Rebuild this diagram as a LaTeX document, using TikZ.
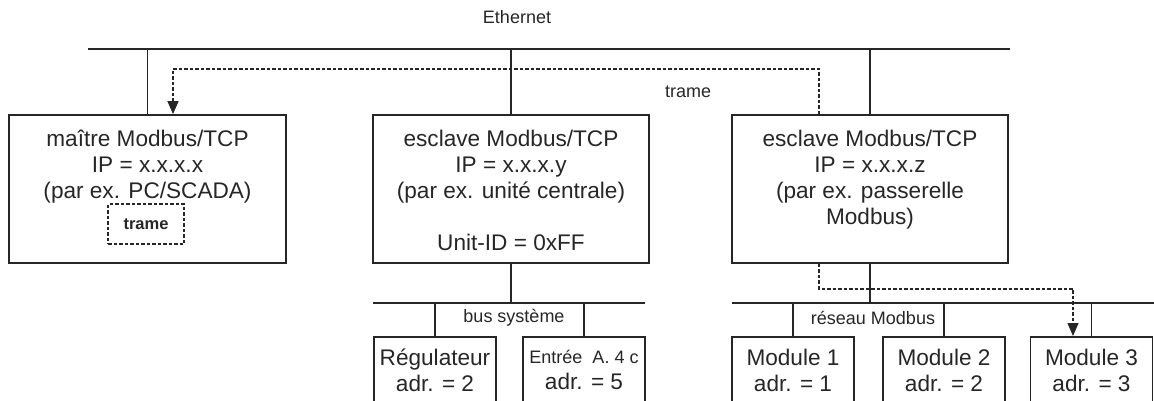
\documentclass[tikz,border=0pt]{standalone}
\usepackage{fontspec}
\setmainfont{Liberation Sans}
\usetikzlibrary{positioning,arrows.meta}

\definecolor{ink}{HTML}{262626}
\newcommand{\bigtxt}{\fontsize{22.6}{26}\selectfont}
\newcommand{\smalltxt}{\fontsize{18}{21}\selectfont}

\tikzset{
  bus/.style={draw=ink, line width=1.8pt},
  unitbox/.style={draw=ink, line width=1.8pt, minimum width=276pt, minimum height=148pt, inner sep=0pt},
  modbox/.style={draw=ink, line width=1.8pt, minimum width=122pt, minimum height=67pt, inner sep=0pt, anchor=north, align=center, text=ink, font=\bigtxt},
  bigtext/.style={align=center, inner sep=0pt, anchor=north, text=ink, font=\bigtxt},
  smalltext/.style={inner sep=0pt, text=ink, font=\smalltxt},
  framebox/.style={draw=ink, line width=1.3pt, dash pattern=on 3.5pt off 2pt, minimum width=76pt, minimum height=40pt, text=ink, font=\bfseries\fontsize{16.5}{20}\selectfont},
  trameline/.style={draw=ink, line width=1.3pt, dash pattern=on 3.5pt off 2pt, -{Triangle[length=13pt,width=11pt]}}
}

\begin{document}
\begin{tikzpicture}[x=1pt, y=-1pt]
	\useasboundingbox (0,0) rectangle (1154,400);
	\clip (0,0) rectangle (1154,400);

	% Ethernet
	\coordinate (ethL) at (88,49);
	\coordinate (ethR) at (1010,49);
	\node[smalltext] (ethlbl) at (517,17) {Ethernet};
	\draw[bus] (ethL) -- (ethR);

	% stations Modbus/TCP
	\node[unitbox, minimum width=277pt] (master) at (147.5,189) {};
	\node[unitbox] (cpu) at (511,189) {};
	\node[unitbox] (gateway) at (870,189) {};
	\node[bigtext] (mastertxt) at ([yshift=-15.5pt]master.north) {maître Modbus/TCP\\IP = x.x.x.x\\(par ex. PC/SCADA)};
	\node[bigtext] (cputxt) at ([yshift=-15.5pt]cpu.north) {esclave Modbus/TCP\\IP = x.x.x.y\\(par ex. unité centrale)\\[26pt]Unit-ID = 0xFF};
	\node[bigtext] (gatewaytxt) at ([yshift=-15.5pt]gateway.north) {esclave Modbus/TCP\\IP = x.x.x.z\\(par ex. passerelle\\Modbus)};
	\node[framebox] (mastertrame) at (146,224) {trame};
	\draw[bus] (master.north) -- (master.north |- ethL);
	\draw[bus] (cpu.north) -- (cpu.north |- ethL);
	\draw[bus] (gateway.north) -- (gateway.north |- ethL);

	% bus systeme
	\coordinate (sysL) at (373,303);
	\coordinate (sysR) at (645,303);
	\node[modbox] (reg) at (435,336) {Régulateur\\adr. = 2};
	\node[modbox] (ain) at (584,336) {{\smalltxt Entrée\ \ A. 4 c}\\adr. = 5};
	\node[smalltext] (syslbl) at (514,318) {bus système};
	\draw[bus] (sysL) -- (sysR);
	\draw[bus] (cpu.south) -- (cpu.south |- sysL);
	\draw[bus] (reg.north) -- (reg.north |- sysL);
	\draw[bus] (ain.north) -- (ain.north |- sysL);

	% reseau Modbus
	\coordinate (mbL) at (732,303);
	\coordinate (mbR) at (1154,303);
	\node[modbox] (mod1) at (793,336) {Module 1\\adr. = 1};
	\node[modbox] (mod2) at (944,336) {Module 2\\adr. = 2};
	\node[modbox] (mod3) at (1091.5,336) {Module 3\\adr. = 3};
	\node[smalltext] (mblbl) at (873,318) {réseau Modbus};
	\draw[bus] (mbL) -- (mbR);
	\draw[bus] (gateway.south) -- (gateway.south |- mbL);
	\draw[bus] (mod1.north) -- (mod1.north |- mbL);
	\draw[bus] (mod2.north) -- (mod2.north |- mbL);
	\draw[bus] (mod3.north) -- (mod3.north |- mbL);

	% chemin de la trame
	\coordinate (tramehi) at (819,69);
	\node[smalltext] (tramelbl) at (688,92) {trame};
	\draw[trameline] (gateway.north -| tramehi) -- (tramehi) -| ([xshift=25.5pt]master.north);
	\draw[trameline] ([xshift=-51pt]gateway.south) -- ++(0,25) -| ([xshift=-18.5pt]mod3.north);
\end{tikzpicture}
\end{document}
